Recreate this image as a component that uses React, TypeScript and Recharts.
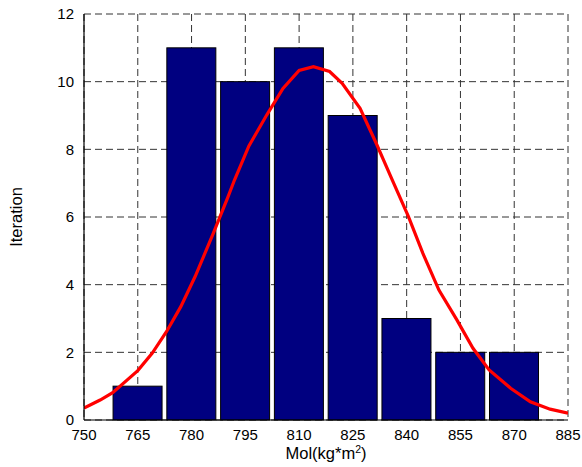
import React from 'react';
import { ComposedChart, Bar, Line, XAxis, YAxis, CartesianGrid, Label } from 'recharts';

const binCenters = [765, 780, 795, 810, 825, 840, 855, 870];
const counts = [1, 11, 10, 11, 9, 3, 2, 2];

const fitX = [750, 754.5, 758, 765, 769, 773, 777, 781, 786, 790, 792, 796, 801, 805.5, 810, 814, 818.5, 822, 827, 831.5, 836, 840.5, 844.5, 849, 854, 858.5, 863, 869, 874.5, 880, 885];
const fitY = [0.35, 0.59, 0.81, 1.46, 1.97, 2.61, 3.35, 4.24, 5.5, 6.55, 7.1, 8.1, 9.02, 9.8, 10.33, 10.44, 10.3, 9.95, 9.21, 8.18, 7.09, 6.01, 4.93, 3.84, 2.96, 2.12, 1.48, 0.94, 0.54, 0.32, 0.2];

const xTicks = [750, 765, 780, 795, 810, 825, 840, 855, 870, 885];
const yTicks = [0, 2, 4, 6, 8, 10, 12];

const xLabel = 'Mol(kg*m';
const xLabelSup = '2';
const xLabelEnd = ')';
const yLabel = 'Iteration';

const barRows = binCenters.map((x, i) => ({ x, count: counts[i] }));
const fitRows = fitX.map((x, i) => ({ x, fit: fitY[i] }));

const FONT = '"Liberation Sans", Arial, sans-serif';
const BAR_W = 49;

const BarShape = (p: any) => {
  if (!p || p.height == null || p.height <= 0) return null;
  const cx = p.x + p.width / 2;
  return (
    <rect
      x={cx - BAR_W / 2}
      y={p.y}
      width={BAR_W}
      height={p.height}
      fill="#000080"
      stroke="#000"
      strokeWidth={1}
    />
  );
};

export default function App() {
  return (
    <div style={{ position: 'absolute', left: 0, top: 0, width: 582, height: 467, background: '#fff' }}>
      <ComposedChart
        width={582}
        height={467}
        data={barRows}
        margin={{ top: 14, right: 14, bottom: 17, left: 24 }}
      >
        <CartesianGrid stroke="#333" strokeDasharray="7 4" strokeWidth={1} />
        <XAxis
          dataKey="x"
          type="number"
          domain={[750, 885]}
          ticks={xTicks}
          allowDataOverflow
          height={30}
          axisLine={{ stroke: '#000', strokeWidth: 1.2 }}
          tickLine={false}
          tick={{ fill: '#000', fontSize: 15, fontFamily: FONT }}
          tickMargin={3}
        >
          <Label
            content={(props: any) => {
              const vb = props.viewBox || {};
              const cx = vb.x + vb.width / 2;
              return (
                <text x={cx} y={459} textAnchor="middle" fontSize={16.5} fontFamily={FONT} fill="#000">
                  {xLabel}
                  <tspan fontSize={10.5} dy={-6}>{xLabelSup}</tspan>
                  <tspan dy={6}>{xLabelEnd}</tspan>
                </text>
              );
            }}
          />
        </XAxis>
        <YAxis
          type="number"
          domain={[0, 12]}
          ticks={yTicks}
          width={60}
          axisLine={{ stroke: '#000', strokeWidth: 1.2 }}
          tickLine={false}
          tick={{ fill: '#000', fontSize: 15, fontFamily: FONT }}
          tickMargin={4}
        >
          <Label
            content={() => (
              <text
                x={22}
                y={217}
                transform="rotate(-90 22 217)"
                textAnchor="middle"
                fontSize={16.5}
                fontFamily={FONT}
                fill="#000"
              >
                {yLabel}
              </text>
            )}
          />
        </YAxis>
        <XAxis
          xAxisId="top"
          orientation="top"
          type="number"
          domain={[750, 885]}
          ticks={xTicks}
          height={0}
          tick={false}
          tickLine={false}
          axisLine={{ stroke: '#000', strokeWidth: 1.2 }}
        />
        <YAxis
          yAxisId="right"
          orientation="right"
          type="number"
          domain={[0, 12]}
          ticks={yTicks}
          width={0}
          tick={false}
          tickLine={false}
          axisLine={{ stroke: '#000', strokeWidth: 1.2 }}
        />
        <Bar
          dataKey="count"
          fill="#000080"
          stroke="#000"
          shape={BarShape}
          isAnimationActive={false}
        />
        <Line
          data={fitRows}
          dataKey="fit"
          type="linear"
          stroke="#ff0000"
          strokeWidth={3.2}
          dot={false}
          isAnimationActive={false}
        />
      </ComposedChart>
    </div>
  );
}
